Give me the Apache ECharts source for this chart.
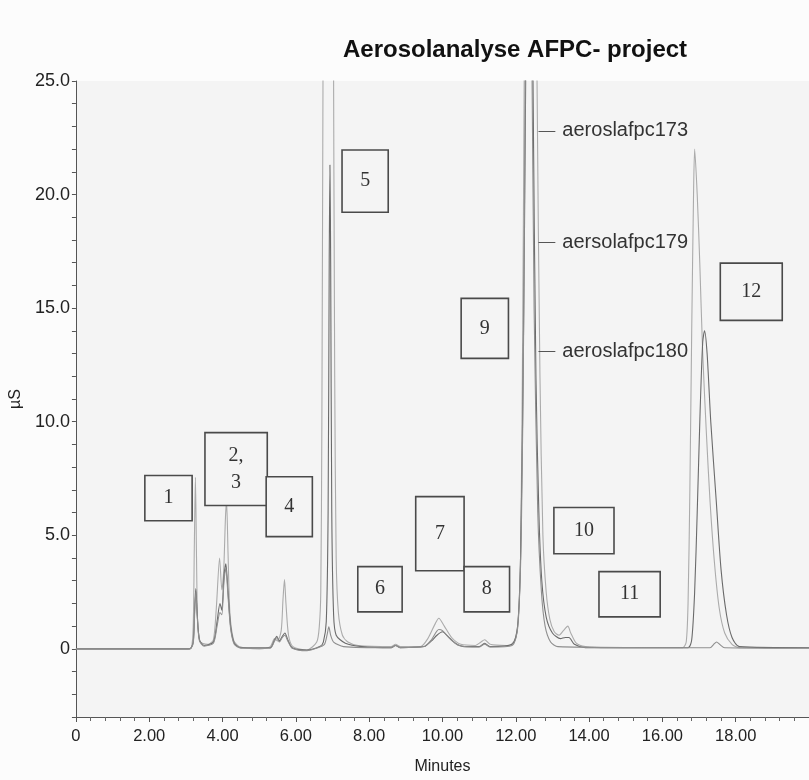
<!DOCTYPE html>
<html>
<head>
<meta charset="utf-8">
<script src="https://cdn.jsdelivr.net/npm/echarts@6/dist/echarts.min.js"></script>
<style>
html,body{margin:0;padding:0;background:#fcfcfc;}
#c{width:809px;height:780px;}
</style>
</head>
<body>
<div id="c"></div>
<script>
// ---- data (minutes, µS) ----
const titleText = 'Aerosolanalyse AFPC- project';
const traceNames = ['aeroslafpc173', 'aersolafpc179', 'aeroslafpc180'];

const traceA = [
  [0,0],[3.05,0],[3.15,0.05],[3.2,1.0],[3.23,4.5],[3.26,7.55],[3.29,4.0],[3.32,1.2],[3.38,0.35],[3.45,0.25],
  [3.6,0.2],[3.75,0.4],[3.83,1.8],[3.92,4.0],[3.98,2.6],[4.03,3.4],[4.08,5.8],[4.11,6.5],[4.15,4.2],[4.2,1.6],
  [4.3,0.4],[4.45,0.1],[5.0,0.0],[5.3,0.1],[5.42,0.45],[5.5,0.35],[5.6,0.8],[5.65,2.2],[5.69,3.05],[5.73,2.0],
  [5.8,0.6],[5.92,0.1],[6.3,-0.05],[6.57,0.3],[6.64,1.0],[6.68,2.5],[6.71,10],[6.75,30],[6.82,60],[6.97,60],
  [7.02,30],[7.06,12],[7.1,4],[7.16,1.6],[7.27,0.6],[7.42,0.3],[7.7,0.15],[8.6,0.1],[8.72,0.2],[8.85,0.1],
  [9.4,0.1],[9.6,0.45],[9.8,1.1],[9.9,1.35],[10.05,1.0],[10.25,0.5],[10.5,0.2],[10.9,0.15],[11.05,0.3],[11.15,0.4],
  [11.3,0.2],[11.75,0.15],[11.88,0.2],[12.0,0.5],[12.08,1.5],[12.13,4],[12.18,12],[12.23,25],[12.33,55],[12.48,55],
  [12.58,25],[12.66,12],[12.74,5],[12.83,2.5],[12.93,1.3],[13.05,0.75],[13.18,0.6],[13.3,0.8],[13.42,1.0],[13.5,0.7],
  [13.65,0.25],[13.9,0.1],[14.5,0.05],[16.55,0.05],[16.65,0.3],[16.7,2],[16.75,7],[16.8,14],[16.85,20],[16.88,22.0],
  [16.95,20],[17.02,17],[17.1,13],[17.2,9.5],[17.3,6.5],[17.42,3.8],[17.55,1.8],[17.7,0.7],[17.9,0.2],[18.1,0.05],[20,0.05]
];
const traceB = [
  [0,0],[3.1,0],[3.2,0.3],[3.24,1.8],[3.27,2.65],[3.31,1.5],[3.37,0.4],[3.5,0.15],[3.75,0.3],[3.85,1.2],
  [3.93,2.0],[3.98,1.7],[4.04,3.2],[4.09,3.75],[4.15,2.5],[4.22,1.0],[4.32,0.25],[4.5,0.05],[5.3,0.05],[5.42,0.4],
  [5.48,0.55],[5.55,0.35],[5.63,0.55],[5.7,0.7],[5.78,0.4],[5.9,0.05],[6.3,-0.05],[6.65,0.1],[6.75,0.3],[6.83,1.2],
  [6.88,6],[6.91,17],[6.93,21.3],[6.95,17],[6.98,6],[7.03,1.5],[7.1,0.6],[7.35,0.25],[7.8,0.1],[8.6,0.05],
  [8.72,0.15],[8.85,0.05],[9.5,0.1],[9.7,0.35],[9.85,0.6],[10.0,0.75],[10.15,0.55],[10.35,0.25],[10.6,0.1],[11.0,0.1],
  [11.15,0.25],[11.3,0.1],[11.9,0.2],[12.05,1.0],[12.13,4],[12.2,12],[12.27,25],[12.35,45],[12.4,45],[12.47,25],
  [12.55,12],[12.63,6],[12.71,3],[12.83,1.4],[13.0,0.7],[13.22,0.45],[13.35,0.5],[13.45,0.5],[13.6,0.2],[13.9,0.05],
  [16.7,0.05],[16.8,0.4],[16.88,2.5],[16.95,6],[17.03,10.5],[17.1,13.5],[17.15,14.0],[17.22,13],[17.32,10],[17.47,6.5],
  [17.6,3.5],[17.75,1.5],[17.9,0.5],[18.1,0.1],[20,0.05]
];
const traceC = [
  [0,0],[3.1,0],[3.2,0.25],[3.24,1.6],[3.27,2.5],[3.31,1.4],[3.37,0.35],[3.5,0.12],[3.75,0.25],[3.85,1.0],
  [3.93,1.6],[3.98,1.5],[4.04,3.0],[4.09,3.55],[4.15,2.3],[4.22,0.9],[4.32,0.2],[4.5,0.03],[5.3,0.03],[5.42,0.35],
  [5.48,0.5],[5.55,0.3],[5.63,0.5],[5.7,0.6],[5.78,0.35],[5.9,0.03],[6.3,-0.08],[6.6,0.05],[6.78,0.2],[6.85,0.6],
  [6.9,0.97],[6.95,0.6],[7.03,0.3],[7.3,0.1],[8.6,0.05],[8.72,0.15],[8.85,0.05],[9.5,0.1],[9.7,0.4],[9.9,0.85],
  [10.0,0.8],[10.2,0.45],[10.45,0.15],[11.0,0.08],[11.15,0.2],[11.3,0.08],[11.9,0.15],[12.05,0.9],[12.15,5],[12.22,15],
  [12.27,28],[12.35,40],[12.43,28],[12.5,15],[12.6,6],[12.7,2.5],[12.8,1.0],[12.95,0.3],[13.15,0.1],[17.3,0.05],
  [17.4,0.2],[17.48,0.3],[17.56,0.2],[17.7,0.05],[20,0.03]
];

// peak-number boxes: label and [x1, y1, x2, y2] in minutes / µS
const boxLabels = ['1', '2,\n3', '4', '5', '6', '7', '8', '9', '10', '11', '12'];
const boxRanges = [
  [1.88, 7.63, 3.17, 5.64],
  [3.52, 9.52, 5.22, 6.31],
  [5.19, 7.58, 6.45, 4.94],
  [7.26, 21.96, 8.52, 19.22],
  [7.69, 3.62, 8.90, 1.63],
  [9.27, 6.70, 10.59, 3.44],
  [10.59, 3.62, 11.83, 1.63],
  [10.51, 15.43, 11.80, 12.79],
  [13.04, 6.22, 14.68, 4.19],
  [14.27, 3.40, 15.94, 1.41],
  [17.58, 16.98, 19.27, 14.46]
];
// trace-name leader lines: [x1, x2, y]
const nameLeaders = [[12.62, 13.08, 22.8], [12.62, 13.08, 17.9], [12.62, 13.08, 13.1]];

const xTicks = { min: 0, max: 20, interval: 2 };
const yTicks = { min: -3, max: 25, interval: 1, labelEvery: 5 };

// ---- chart ----
const chart = echarts.init(document.getElementById('c'), null, { renderer: 'canvas' });
const colors = ['#ababab', '#6a6a6a', '#8e8e8e'];
const traces = [traceA, traceB, traceC];
const sans = 'Liberation Sans, Arial, Helvetica, sans-serif';

const series = traces.map((d, i) => ({
  name: traceNames[i],
  type: 'line',
  data: d,
  showSymbol: false,
  symbol: 'none',
  smooth: 0.25,
  clip: true,
  z: 2 + i,
  lineStyle: { color: colors[i], width: 1.1 },
  animation: false
}));

series.push({
  name: 'boxes',
  type: 'line',
  data: [[0, 0]],
  symbol: 'none',
  lineStyle: { opacity: 0 },
  animation: false,
  markArea: {
    z: 10,
    silent: true,
    itemStyle: { color: '#f4f4f4', borderColor: '#4a4a4a', borderWidth: 1.6 },
    label: {
      show: true, position: 'inside', color: '#333',
      fontFamily: 'Liberation Serif, DejaVu Serif, serif', fontSize: 20, lineHeight: 27
    },
    data: boxRanges.map((r, i) => [
      { name: boxLabels[i], coord: [r[0], r[1]] },
      { coord: [r[2], r[3]] }
    ])
  }
});

series.push({
  name: 'names',
  type: 'line',
  data: [[0, 0]],
  symbol: 'none',
  lineStyle: { opacity: 0 },
  animation: false,
  markLine: {
    z: 11,
    silent: true,
    symbol: 'none',
    lineStyle: { color: '#555', width: 1, type: 'solid' },
    label: {
      show: true, position: 'end', formatter: '{b}', distance: 7,
      color: '#333', fontFamily: sans, fontSize: 20
    },
    data: nameLeaders.map((l, i) => [
      { name: traceNames[i], coord: [l[0], l[2]] },
      { coord: [l[1], l[2]] }
    ])
  }
});

chart.setOption({
  animation: false,
  backgroundColor: '#fcfcfc',
  title: {
    text: titleText,
    left: 338, top: 33,
    textStyle: { fontFamily: sans, fontWeight: 'bold', fontSize: 24, color: '#111' }
  },
  grid: {
    left: 72, right: -8, top: 81, bottom: 63,
    show: true, backgroundColor: '#f4f4f4', borderWidth: 0
  },
  xAxis: {
    type: 'value',
    min: xTicks.min, max: xTicks.max, interval: xTicks.interval,
    name: 'Minutes', nameLocation: 'middle', nameGap: 42,
    nameTextStyle: { fontFamily: sans, fontSize: 16, color: '#222' },
    axisLine: { onZero: false, lineStyle: { color: '#555', width: 1 } },
    axisTick: { show: true, length: 5, lineStyle: { color: '#555' } },
    minorTick: { show: true, splitNumber: 5, length: 4, lineStyle: { color: '#666' } },
    splitLine: { show: false },
    axisLabel: {
      showMaxLabel: false, margin: 11, color: '#222', fontSize: 16.5,
      fontFamily: sans,
      formatter: v => v === 0 ? '0' : v.toFixed(2)
    }
  },
  yAxis: {
    type: 'value',
    min: yTicks.min, max: yTicks.max, interval: yTicks.interval,
    name: 'µS', nameLocation: 'middle', nameGap: 26,
    nameTextStyle: { fontFamily: sans, fontSize: 16, color: '#222' },
    axisLine: { show: true, lineStyle: { color: '#555', width: 1 } },
    axisTick: { show: true, length: 4, lineStyle: { color: '#555' } },
    splitLine: { show: false },
    axisLabel: {
      margin: 6, color: '#222', fontSize: 18,
      fontFamily: sans,
      formatter: v => (Math.round(v) % yTicks.labelEvery !== 0) ? '' : (v === 0 ? '0' : v.toFixed(1))
    }
  },
  series: series
});
</script>
</body>
</html>
